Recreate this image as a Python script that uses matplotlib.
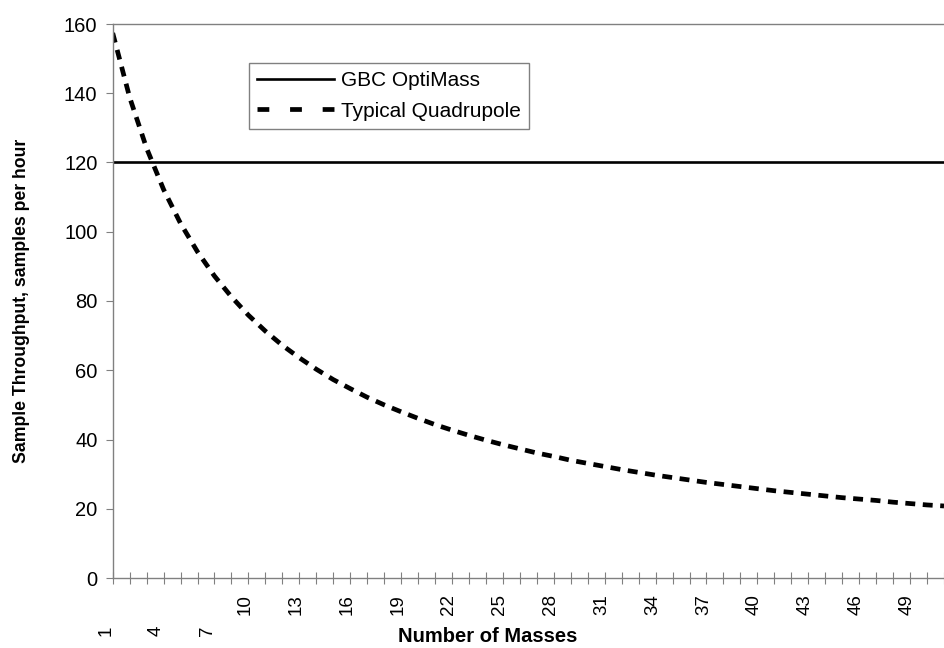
import matplotlib.pyplot as plt
from matplotlib.lines import Line2D
from matplotlib.transforms import blended_transform_factory, ScaledTranslation

# number of masses measured (category axis)
masses = list(range(1, 51))

# sample throughput, samples per hour
optimass = [120] * len(masses)
quadrupole = [157.4, 138.8, 124.1, 112.2, 102.4, 94.2, 87.2, 81.2, 75.9, 71.3,
              67.2, 63.6, 60.3, 57.3, 54.7, 52.2, 50.0, 48.0, 46.1, 44.3,
              42.7, 41.2, 39.8, 38.5, 37.3, 36.1, 35.1, 34.0, 33.1, 32.2,
              31.3, 30.5, 29.7, 29.0, 28.3, 27.6, 27.0, 26.4, 25.8, 25.2,
              24.7, 24.2, 23.7, 23.2, 22.8, 22.4, 21.9, 21.5, 21.1, 20.8]

series_names = ['GBC OptiMass', 'Typical Quadrupole']
x_labels = [1, 4, 7, 10, 13, 16, 19, 22, 25, 28, 31, 34, 37, 40, 43, 46, 49]
y_ticks = [0, 20, 40, 60, 80, 100, 120, 140, 160]

plt.rcParams['font.family'] = ['Liberation Sans', 'DejaVu Sans']
axis_grey = '#808080'

fig = plt.figure(figsize=(9.44, 6.48), dpi=100)
ax = fig.add_axes([112.7 / 944, 70 / 648, 1 - 112.7 / 944, 554 / 648])

ax.plot(masses, optimass, color='black', lw=1.9, solid_capstyle='butt')
ax.plot(masses, quadrupole, color='black', lw=3.4, dashes=(2.1, 1.6),
        dash_capstyle='butt')

ax.set_xlim(1, 49.53)
ax.set_ylim(0, 160)

for side in ['left', 'bottom', 'top']:
    ax.spines[side].set_color(axis_grey)
    ax.spines[side].set_linewidth(1)
ax.spines['right'].set_visible(False)

ax.set_yticks(y_ticks)
ax.tick_params(axis='y', direction='out', length=5, color=axis_grey,
               labelsize=14.5, pad=6)
ax.set_xticks(masses)
ax.tick_params(axis='x', direction='inout', length=8, color=axis_grey,
               labelbottom=False)

# Excel-style rotated category labels, short ones sit lower
trans = blended_transform_factory(ax.transData, ax.transAxes)
for n in x_labels:
    s = str(n)
    if len(s) == 1:
        dx, dy = -7, -48
    else:
        dx, dy = -20, -16
    off = ScaledTranslation(dx / 100, dy / 100, fig.dpi_scale_trans)
    ax.text(n, 0, s, transform=trans + off, rotation=90, ha='center',
            va='top', fontsize=13.5)

ax.set_xlabel('Number of Masses', fontsize=14.5, fontweight='bold')
ax.xaxis.set_label_coords((488 - 112.7) / 831.3, -(637 - 578) / 554)
ax.xaxis.label.set_va('center')

ax.set_ylabel('Sample Throughput, samples per hour', fontsize=12.7,
              fontweight='bold')
ax.yaxis.set_label_coords((22 - 112.7) / 831.3, 0.5)
ax.yaxis.label.set_va('center')

handles = [Line2D([], [], color='black', lw=1.9),
           Line2D([], [], color='black', lw=3.4, dashes=(2.5, 4.4))]
leg = ax.legend(handles, series_names, loc='upper left',
                bbox_to_anchor=(0.164, 0.93), borderaxespad=0,
                fancybox=False, edgecolor=axis_grey, framealpha=1,
                fontsize=15, handlelength=3.7, handletextpad=0.3,
                borderpad=0.4, labelspacing=0.55)
leg.get_frame().set_linewidth(1)

fig.savefig('out.png', dpi=100)
